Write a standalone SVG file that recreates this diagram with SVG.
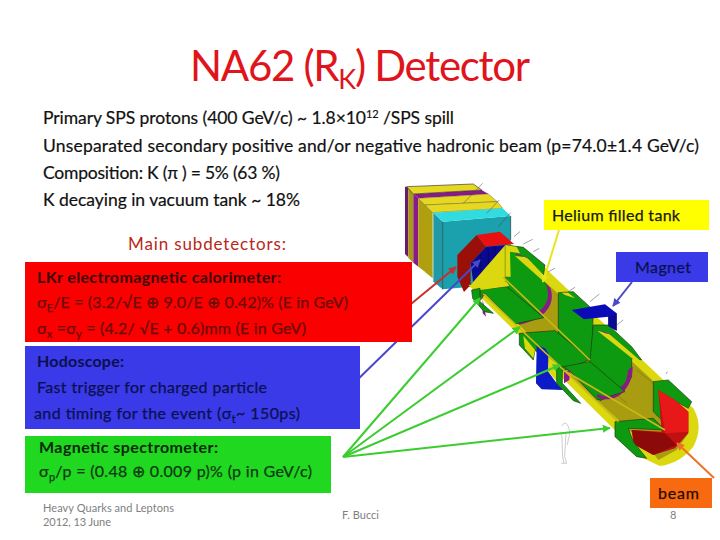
<svg xmlns="http://www.w3.org/2000/svg" width="720" height="540" viewBox="0 0 720 540">
<style>
text{font-family:"Lato","Carlito","Open Sans",sans-serif;}
.body{font-size:17.5px;fill:#111;stroke:#111;stroke-width:.2}
.box{font-size:16px;stroke-width:.25}
.b{font-weight:700}
.foot{font-size:11px;fill:#808080}
.sub{font-size:11px}
.g{fill:#0e9a10;stroke:#1c3a10;stroke-width:2}
.pu{fill:#8a1a88}
.y{fill:#dcd810}
.ol{fill:#a89c10}
.conn{fill:none;stroke-width:2}
</style>
<defs>
<marker id="mr" viewBox="0 0 10 10" refX="9" refY="5" markerWidth="4" markerHeight="4" orient="auto"><path d="M0 0L10 5L0 10z" fill="#c8302a"/></marker>
<marker id="mb" viewBox="0 0 10 10" refX="9" refY="5" markerWidth="4" markerHeight="4" orient="auto"><path d="M0 0L10 5L0 10z" fill="#4848c8"/></marker>
<marker id="mg" viewBox="0 0 10 10" refX="9" refY="5" markerWidth="4" markerHeight="4" orient="auto"><path d="M0 0L10 5L0 10z" fill="#3ccc30"/></marker>
<marker id="mo" viewBox="0 0 10 10" refX="9" refY="5" markerWidth="4" markerHeight="4" orient="auto"><path d="M0 0L10 5L0 10z" fill="#f07028"/></marker>
<marker id="my" viewBox="0 0 10 10" refX="9" refY="5" markerWidth="4" markerHeight="4" orient="auto"><path d="M0 0L10 5L0 10z" fill="#e6e620"/></marker>
</defs>
<rect width="720" height="540" fill="#fff"/>

<g id="detector" transform="translate(360 170) scale(.3333)">
  <!-- back slabs -->
  <path d="M135 50L145 52V262L135 252z" fill="#6a1a6a"/>
  <path d="M145 52L160 72V278L145 264z" fill="#a89a10"/>
  <path d="M160 72L175 85V290L160 278z" class="pu"/>
  <path d="M160 72L365 60L385 72L175 85z" class="pu"/>
  <path d="M140 50L340 42L365 60L160 72z" fill="#e6d820" stroke="#333" stroke-width="2"/>
  <path d="M175 85L195 105V305L175 290z" fill="#b0a010"/>
  <path d="M175 85L385 72L412 95L195 105z" fill="#e6d820" stroke="#333"/>
  <path d="M195 105L218 128V325L195 306z" fill="#b0a010"/>
  <path d="M195 105L412 95L428 115L218 128z" fill="#e6d820" stroke="#333"/>
  <path d="M220 128L248 155V358L220 335z" fill="#1f9aa6"/>
  <path d="M248 155L452 138V340L248 358z" fill="#1ba0ae"/>
  <path d="M220 128L428 115L452 138L248 155z" fill="#30dce0"/>
  <path d="M248 155V358M452 138V210" stroke="#1a3a3a" stroke-width="2" fill="none"/>
  <!-- red end + blue -->
  <path d="M292 255L350 195L378 230L332 280V345L312 366L292 320z" fill="#9a1008"/>
  <path d="M350 195L420 185L462 222L378 230z" fill="#e81010"/>
  <path d="M378 230L436 225V320L340 340L332 280z" fill="#0a0a90"/>
  <path d="M362 255V335M385 235V330M405 232V325" stroke="#06064a" stroke-width="2"/>
  <!-- tube -->
  <path class="y" d="M436 225L490 232L1000 715Q1032 770 1000 830Q960 880 900 888L850 865L330 350L340 335z"/>
  <path class="ol" d="M560 340L985 730L985 790L950 840L895 870L880 850L770 745L610 600L385 370L440 330z"/>
  <path d="M880 640L950 700M900 670L980 745M830 600L880 640M700 610L800 700" stroke="#6f6808" stroke-width="1.5" fill="none"/>
  <!-- section A -->
  <path class="g" d="M436 225L490 232L555 285L548 330L565 350L572 392L545 430L470 458L436 320z"/>
  <path class="y" d="M436 225L470 230L480 250L450 245L452 320L436 320z"/>
  <path class="y" d="M465 258L500 262L560 325L552 335z"/>
  <path class="pu" d="M468 250L520 272L500 262L470 256z"/>
  <path class="pu" d="M558 345C575 385 560 430 470 456L478 464C575 445 585 385 570 352z"/>
  <path class="g" d="M360 358L440 350L552 443L465 462L375 370L362 390z"/>
  <path class="y" d="M325 345L440 335L448 348L345 362z"/>
  <path class="pu" d="M365 372L378 440L368 430V375z"/>
  <path fill="#0e9a10" stroke="#1c3a10" stroke-width="2" d="M335 360L360 355V395L400 430L372 425L338 385z"/>
  <!-- section B -->
  <path class="g" d="M595 368L640 365L700 420L695 570L620 560L595 500z"/>
  <path class="y" d="M605 368L625 368L645 385L615 375z"/>
  <path class="g" d="M478 490L585 482L692 568L600 606L525 540L520 570L478 525z"/>
  <path class="y" d="M490 497L525 540L520 565L495 535z"/>
  <!-- section C -->
  <path class="g" d="M700 465L745 465L815 530L845 570L815 565L815 620L790 665L720 692L698 670L690 570z"/>
  <path class="y" d="M712 482L745 490L850 580L838 582z"/>
  <path class="pu" d="M715 480L760 495L735 490z"/>
  <path class="pu" d="M806 600C808 640 770 675 712 668L712 680C780 695 818 650 818 590z"/>
  <!-- magnets -->
  <path d="M635 420L735 403L770 430V482L745 468V440L700 445L672 448z" fill="#0a0ab8"/>
  <path d="M745 440L770 430V482L745 468z" fill="#0a0a90"/>
  <path d="M530 525L555 535L565 550V605L590 640L610 660L545 658L528 640z" fill="#0c1ac8"/>
  <!-- section D -->
  <path class="y" d="M565 560L600 590L595 640L565 605z"/>
  <path class="g" d="M610 590L690 575L795 665L712 690L632 605z"/>
  <path class="g" d="M590 595L607 590V640L662 700L640 692L590 640z"/>
  <path class="pu" d="M612 605L632 600L628 630L612 640z"/>
  <path class="pu" d="M795 650C790 670 750 690 712 672L710 682C755 700 810 680 815 590L805 600z"/>
  <!-- end cap -->
  <path class="g" d="M880 635L925 630L995 695L985 715L940 690L915 760L880 725z"/>
  <path d="M895 660L945 690L985 725L985 790L945 835L880 855L820 820L815 780L905 785z" fill="#c01010"/>
  <path d="M895 660L945 690L985 725L985 785L915 790z" fill="#e81818"/>
  <path d="M815 780L915 790L950 825L880 855L825 825z" fill="#8c0a0a"/>
  <path class="g" d="M765 755L880 745L915 780L805 775L820 815L860 865L830 860L765 800z"/>
  <path d="M430 322L690 570M370 372L775 755M610 600L915 780" stroke="#c8b818" stroke-width="5" fill="none"/>
  <!-- thin ticks -->
  <path d="M310 100L368 40M380 130L418 90M415 170L452 128M462 200L480 185M490 222L518 208M520 245L538 235M565 305L585 295M625 365L645 352M690 395L718 372M770 465L790 450M918 612L922 605" stroke="#444" stroke-width="1.5" fill="none"/>
  <path d="M606 768Q615 750 624 768L630 785L622 825M600 785L606 800L608 860L612 880M618 790L614 860L620 880M604 880H620" stroke="#999" stroke-width="1.5" fill="none"/>
</g>

<g id="connectors" class="conn">
  <path class="conn" d="M400 313L456 267" stroke="#c8302a" marker-end="url(#mr)"/>
  <path class="conn" d="M350 387L480 260" stroke="#4848c8" marker-end="url(#mb)"/>
  <path class="conn" d="M343 457L480 298" stroke="#3ccc30" marker-end="url(#mg)"/>
  <path class="conn" d="M343 457L520 327" stroke="#3ccc30" marker-end="url(#mg)"/>
  <path class="conn" d="M343 457L560 365" stroke="#3ccc30" marker-end="url(#mg)"/>
  <path class="conn" d="M343 457L610 428" stroke="#3ccc30" marker-end="url(#mg)"/>
  <path class="conn" d="M559 230L543 282" stroke="#e6e620" marker-end="url(#my)"/>
  <path class="conn" d="M632 282L613 306" stroke="#4848c8" marker-end="url(#mb)"/>
  <path class="conn" d="M714 478L677 443" stroke="#f07028" marker-end="url(#mo)"/>
</g>

<g id="title"><text x="190" y="81" font-size="42" fill="#e0141c" textLength="340">NA62 (R<tspan font-size="27" dy="8">K</tspan><tspan dy="-8">) Detector</tspan></text></g>

<g id="intro">
  <text class="body" x="43" y="124" textLength="411">Primary SPS protons (400 GeV/c) ~ 1.8×10<tspan font-size="11" dy="-6">12</tspan><tspan dy="6"> /SPS spill</tspan></text>
  <text class="body" x="43" y="152" textLength="656">Unseparated secondary positive and/or negative hadronic  beam (p=74.0±1.4 GeV/c)</text>
  <text class="body" x="43" y="179" textLength="237">Composition: K (π ) = 5% (63 %)</text>
  <text class="body" x="43" y="206" textLength="257">K decaying in vacuum  tank ~ 18%</text>
  <text x="128" y="250" font-size="17" fill="#b82818" textLength="158">Main subdetectors:</text>
</g>

<g id="lkr">
  <rect x="25" y="262" width="387" height="80" fill="#fb0000"/>
  <text class="box b" x="37" y="283" fill="#3a0808" textLength="244">LKr electromagnetic calorimeter:</text>
  <text class="box" x="37" y="308" fill="#6a0c06" stroke="#6a0c06" textLength="311">σ<tspan class="sub" dy="4">E</tspan><tspan dy="-4">/E = (3.2/√E ⊕ 9.0/E ⊕ 0.42)% (E in GeV)</tspan></text>
  <text class="box" x="37" y="334" fill="#6a0c06" stroke="#6a0c06" textLength="269">σ<tspan class="sub" dy="4">x</tspan><tspan dy="-4"> =σ</tspan><tspan class="sub" dy="4">y</tspan><tspan dy="-4"> = (4.2/ √E + 0.6)mm (E in GeV)</tspan></text>
</g>
<g id="hodoscope">
  <rect x="25" y="346" width="335" height="83" fill="#3a3ae8"/>
  <text class="box b" x="37" y="367" fill="#0a1050" textLength="87">Hodoscope:</text>
  <text class="box" x="37" y="393" fill="#0a1050" stroke="#0a1050" textLength="230">Fast trigger for charged particle</text>
  <text class="box" x="34" y="419" fill="#0a1050" stroke="#0a1050" textLength="266">and timing for the event (σ<tspan class="sub" dy="4">t</tspan><tspan dy="-4">~ 150ps)</tspan></text>
</g>
<g id="spectrometer">
  <rect x="25" y="436" width="306" height="57" fill="#1fd81f"/>
  <text class="box b" x="39" y="453" fill="#0a2a0a" textLength="179">Magnetic spectrometer:</text>
  <text class="box" x="39" y="477" fill="#0f3a14" stroke="#0f3a14" textLength="273">σ<tspan class="sub" dy="4">p</tspan><tspan dy="-4">/p = (0.48 ⊕ 0.009 p)% (p in GeV/c)</tspan></text>
</g>
<g id="helium">
  <rect x="544" y="200" width="165" height="30" fill="#ffff00"/>
  <text class="box" x="552" y="221" fill="#181818" stroke="#181818" textLength="128">Helium filled tank</text>
</g>
<g id="magnet">
  <rect x="616" y="252" width="92" height="30" fill="#3a3ae8"/>
  <text class="box" x="635" y="273" fill="#0a1050" stroke="#0a1050" textLength="56">Magnet</text>
</g>
<g id="beam">
  <rect x="650" y="478" width="62" height="30" fill="#f86a10"/>
  <text class="box" x="658" y="499" fill="#2a0a00" stroke="#2a0a00" textLength="41">beam</text>
</g>

<g id="footer">
  <text class="foot" x="43" y="512" textLength="131">Heavy Quarks and Leptons</text>
  <text class="foot" x="43" y="526" textLength="68">2012, 13 June</text>
  <text class="foot" x="342" y="519" textLength="37">F. Bucci</text>
  <text class="foot" x="670" y="519">8</text>
</g>
</svg>
